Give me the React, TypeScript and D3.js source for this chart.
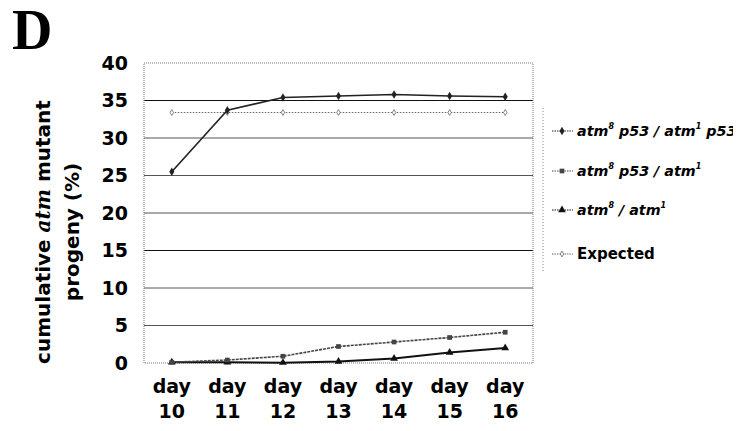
import React, { useRef, useEffect } from 'react';
import * as d3 from 'd3';

const days = ['10', '11', '12', '13', '14', '15', '16'];
const yTicks = [0, 5, 10, 15, 20, 25, 30, 35, 40];

const p53Both = [25.5, 33.7, 35.4, 35.6, 35.8, 35.6, 35.5];
const p53Single = [0.1, 0.4, 0.9, 2.2, 2.8, 3.4, 4.1];
const atmOnly = [0.1, 0.1, 0.05, 0.2, 0.6, 1.4, 2.0];
const expected = [33.4, 33.4, 33.4, 33.4, 33.4, 33.4, 33.4];

const seriesList = [
  { key: 'p53Both', values: p53Both, color: '#222', width: 1.6, dash: null, marker: 'diamond', p53a: true, p53b: true },
  { key: 'p53Single', values: p53Single, color: '#444', width: 1.6, dash: '3,1', marker: 'square', p53a: true, p53b: false },
  { key: 'atmOnly', values: atmOnly, color: '#111', width: 2, dash: null, marker: 'triangle', p53a: false, p53b: false },
  { key: 'expected', values: expected, color: '#666', width: 1, dash: '1.5,1.5', marker: 'small', label: 'Expected' },
];

const App = () => {
  const svgRef = useRef<SVGSVGElement>(null);
  const width = 741;
  const height = 431;

  useEffect(() => {
    const svg = d3.select(svgRef.current);
    svg.selectAll('*').remove();
    const margin = { top: 63, left: 144, right: 208, bottom: 68 };
    const innerW = width - margin.left - margin.right;
    const innerH = height - margin.top - margin.bottom;
    const font = 'DejaVu Sans, Verdana, sans-serif';

    const x = d3.scaleBand().domain(days).range([0, innerW]);
    const y = d3.scaleLinear().domain([0, 40]).range([innerH, 0]);
    const cx = (i: number) => (x(days[i]) as number) + x.bandwidth() / 2;

    // panel letter
    svg.append('text')
      .attr('x', 12).attr('y', 49)
      .attr('font-family', 'Liberation Serif, serif')
      .attr('font-weight', 'bold')
      .attr('font-size', 56)
      .text('D');

    const g = svg.append('g').attr('transform', `translate(${margin.left},${margin.top})`);

    // gridlines
    g.selectAll('line.grid')
      .data(yTicks.filter(d => d > 0 && d < 40))
      .enter().append('line')
      .attr('x1', 0).attr('x2', innerW)
      .attr('y1', d => y(d)).attr('y2', d => y(d))
      .attr('stroke', d => (d === 35 || d === 15 ? '#111' : '#555'))
      .attr('stroke-width', 1);

    // plot border
    g.append('rect')
      .attr('x', 0).attr('y', 0).attr('width', innerW).attr('height', innerH)
      .attr('fill', 'none').attr('stroke', '#777').attr('stroke-dasharray', '1,1');

    // y tick labels
    g.selectAll('text.ytick')
      .data(yTicks)
      .enter().append('text')
      .attr('x', -16).attr('y', d => y(d))
      .attr('dy', '0.36em')
      .attr('text-anchor', 'end')
      .attr('font-family', font).attr('font-weight', 'bold').attr('font-size', 19)
      .text(d => d);

    // x tick labels
    const xl = g.selectAll('text.xtick')
      .data(days)
      .enter().append('text')
      .attr('text-anchor', 'middle')
      .attr('font-family', font).attr('font-weight', 'bold').attr('font-size', 19);
    xl.append('tspan').attr('x', (_d, i) => cx(i)).attr('y', innerH + 30).text('day');
    xl.append('tspan').attr('x', (_d, i) => cx(i)).attr('y', innerH + 55).text(d => d);

    // y axis title
    const yt = svg.append('text')
      .attr('transform', 'translate(0,232) rotate(-90)')
      .attr('text-anchor', 'middle')
      .attr('font-family', font).attr('font-weight', 'bold').attr('font-size', 20);
    const l1 = yt.append('tspan').attr('x', 0).attr('y', 50);
    l1.append('tspan').text('cumulative ');
    l1.append('tspan').attr('font-style', 'italic').attr('font-family', 'DejaVu Serif, serif').text('atm');
    l1.append('tspan').text(' mutant');
    yt.append('tspan').attr('x', 0).attr('y', 79).text('progeny (%)');

    const drawMarker = (sel: any, kind: string, color: string) => {
      if (kind === 'diamond') {
        sel.append('path').attr('d', d3.symbol(d3.symbolDiamond, 22)()).attr('fill', color);
      } else if (kind === 'square') {
        sel.append('path').attr('d', d3.symbol(d3.symbolSquare, 22)()).attr('fill', color);
      } else if (kind === 'triangle') {
        sel.append('path').attr('d', d3.symbol(d3.symbolTriangle, 26)()).attr('fill', color);
      } else {
        sel.append('path').attr('d', d3.symbol(d3.symbolDiamond, 10)()).attr('fill', 'white').attr('stroke', color).attr('stroke-width', 0.8);
      }
    };

    const line = d3.line<number>()
      .x((_d, i) => cx(i))
      .y(d => y(d));

    seriesList.slice().reverse().forEach(s => {
      g.append('path')
        .datum(s.values)
        .attr('fill', 'none')
        .attr('stroke', s.color)
        .attr('stroke-width', s.width)
        .attr('stroke-dasharray', s.dash)
        .attr('d', line);
      s.values.forEach((v, i) => {
        const m = g.append('g').attr('transform', `translate(${cx(i)},${y(v)})`);
        drawMarker(m, s.marker, s.color);
      });
    });

    // legend
    const lg = svg.append('g');
    lg.append('line')
      .attr('x1', 543).attr('x2', 543).attr('y1', 108).attr('y2', 273)
      .attr('stroke', '#888').attr('stroke-dasharray', '1,2');
    const legendY = [131, 171, 210, 254];
    seriesList.forEach((s, i) => {
      const row = lg.append('g').attr('transform', `translate(0,${legendY[i]})`);
      row.append('line')
        .attr('x1', 552).attr('x2', 573).attr('y1', 0).attr('y2', 0)
        .attr('stroke', s.color).attr('stroke-width', 1)
        .attr('stroke-dasharray', '1.5,1');
      drawMarker(row.append('g').attr('transform', 'translate(562,0)'), s.marker, s.color);
      const t = row.append('text')
        .attr('x', 577).attr('y', 0).attr('dy', 5)
        .attr('font-family', font).attr('font-weight', 'bold').attr('font-size', s.label ? 15 : 14.3);
      if (s.label) {
        t.text(s.label);
        return;
      }
      t.attr('font-style', 'italic');
      // superscripts go through explicit px shifts so the baseline comes back
      t.append('tspan').text('atm');
      t.append('tspan').attr('font-size', 8).attr('dy', -7).text('8');
      t.append('tspan').attr('dy', 7).text(s.p53a ? ' p53 / atm' : ' / atm');
      t.append('tspan').attr('font-size', 8).attr('dy', -7).text('1');
      if (s.p53b) t.append('tspan').attr('dy', 7).text(' p53');
    });
  }, []);

  return <svg ref={svgRef} width={width} height={height} style={{ display: 'block', margin: -8 }} />;
};

export default App;
